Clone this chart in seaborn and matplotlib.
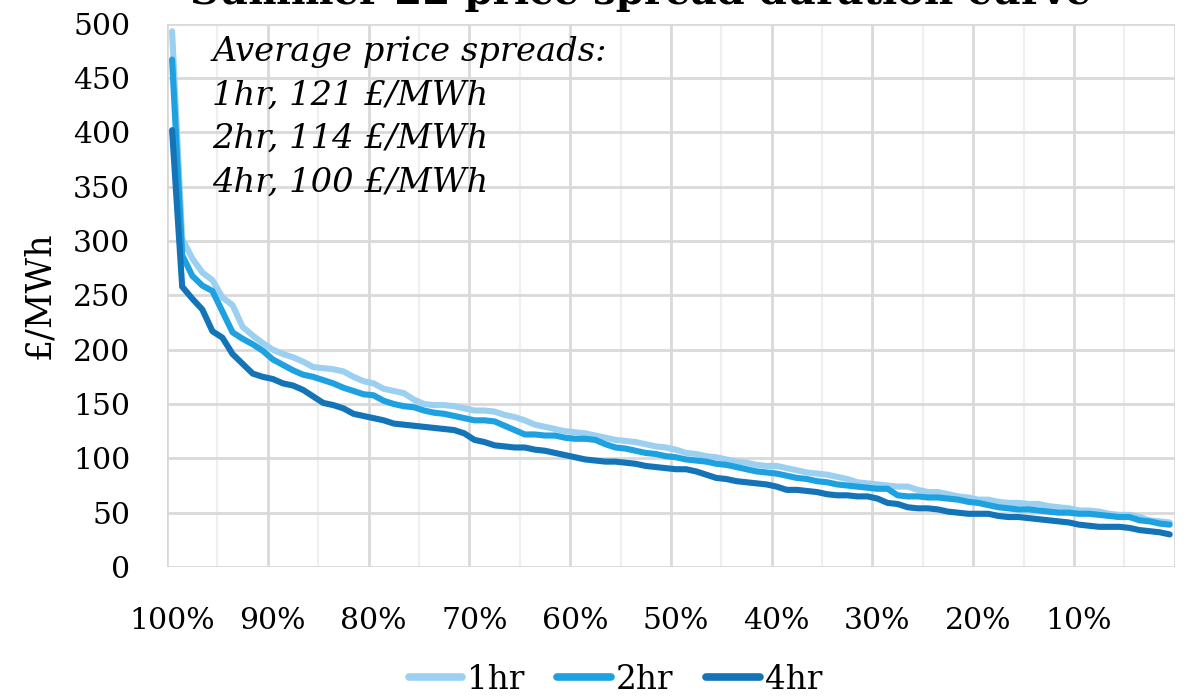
import matplotlib
matplotlib.use("Agg")
import matplotlib.pyplot as plt
import seaborn as sns
import pandas as pd

# ---- data ----
percentile = list(range(100, 0, -1))  # duration-curve categories 100% .. 1%

spread_1hr = [493, 302, 284, 271, 264, 248, 241, 221, 213, 206,
              200, 196, 193, 189, 184, 183, 182, 180, 175, 171,
              169, 164, 162, 160, 154, 150, 149, 149, 148, 146,
              144, 144, 143, 140, 138, 135, 131, 129, 127, 125,
              124, 123, 121, 119, 117, 116, 115, 113, 111, 110,
              108, 105, 104, 102, 101, 99, 97, 96, 94, 93,
              93, 91, 89, 87, 86, 85, 83, 81, 78, 77,
              76, 75, 74, 74, 71, 69, 69, 67, 65, 64,
              62, 62, 60, 59, 59, 58, 58, 56, 55, 54,
              52, 52, 51, 49, 48, 48, 46, 43, 42, 41]

spread_2hr = [467, 287, 268, 259, 254, 235, 216, 210, 205, 199,
              191, 186, 181, 177, 175, 172, 169, 165, 162, 159,
              158, 153, 150, 148, 147, 144, 142, 141, 139, 137,
              135, 135, 134, 130, 126, 122, 122, 121, 121, 119,
              118, 118, 117, 113, 110, 109, 107, 105, 104, 102,
              101, 99, 98, 97, 95, 94, 92, 90, 88, 87,
              86, 84, 82, 81, 79, 78, 76, 75, 74, 73,
              72, 72, 66, 65, 65, 64, 64, 63, 62, 60,
              59, 57, 55, 54, 53, 53, 52, 51, 50, 50,
              49, 49, 48, 47, 46, 46, 43, 42, 40, 39]

spread_4hr = [402, 258, 247, 237, 217, 211, 196, 187, 178, 175,
              173, 169, 167, 163, 157, 151, 149, 146, 141, 139,
              137, 135, 132, 131, 130, 129, 128, 127, 126, 123,
              117, 115, 112, 111, 110, 110, 108, 107, 105, 103,
              101, 99, 98, 97, 97, 96, 95, 93, 92, 91,
              90, 90, 88, 85, 82, 81, 79, 78, 77, 76,
              74, 71, 71, 70, 69, 67, 66, 66, 65, 65,
              63, 59, 58, 55, 54, 54, 53, 51, 50, 49,
              49, 49, 47, 46, 46, 45, 44, 43, 42, 41,
              39, 38, 37, 37, 37, 36, 34, 33, 32, 30]

series_names = ["1hr", "2hr", "4hr"]
series_colors = ["#9BD0F0", "#1DA1E0", "#1474B8"]
x_tick_values = [100, 90, 80, 70, 60, 50, 40, 30, 20, 10]
x_tick_labels = ["100%", "90%", "80%", "70%", "60%", "50%", "40%", "30%", "20%", "10%"]
y_ticks = [0, 50, 100, 150, 200, 250, 300, 350, 400, 450, 500]
title = "Summer 22 price spread duration curve"
note_lines = ["Average price spreads:", "1hr, 121 £/MWh", "2hr, 114 £/MWh", "4hr, 100 £/MWh"]

df = pd.concat([
    pd.DataFrame({"pct": percentile, "value": vals, "duration": name})
    for name, vals in zip(series_names, [spread_1hr, spread_2hr, spread_4hr])
], ignore_index=True)

# ---- figure ----
sns.set_theme(style="white")
plt.rcParams["font.family"] = ["DejaVu Serif"]
plt.rcParams["text.color"] = "black"
plt.rcParams["axes.labelcolor"] = "black"
fig = plt.figure(figsize=(11.89, 6.96), dpi=100)
ax = fig.add_axes([0.1405, 0.1853, 0.988 - 0.1405, 0.966 - 0.1853])

# gridlines
for g in range(0, 101, 5):
    major = (g % 10 == 0)
    ax.axvline(g + 0.5, color="#D9D9D9" if major else "#EFEFEF",
               lw=2.0 if major else 1.6, zorder=0)
for yv in y_ticks:
    ax.axhline(yv, color="#D9D9D9", lw=2.0, zorder=0)

sns.lineplot(data=df, x="pct", y="value", hue="duration", hue_order=series_names,
             palette=series_colors, linewidth=4.4, ax=ax, legend=True,
             estimator=None, sort=False)

ax.set_xlim(100.5, 0.5)
ax.set_ylim(0, 500)
ax.set_xticks(x_tick_values)
ax.set_xticklabels(x_tick_labels)
ax.set_yticks(y_ticks)
ax.tick_params(axis="x", length=0, pad=29, labelsize=21.5, colors="black")
ax.tick_params(axis="y", length=0, pad=26.5, labelsize=21.5, colors="black")
for s in ax.spines.values():
    s.set_visible(False)
ax.set_xlabel("")
ax.set_ylabel("£/MWh", fontsize=25, labelpad=12)

fig.text(0.539, 0.994, title, ha="center", va="baseline", fontsize=29,
         fontweight="bold")

for k, line in enumerate(note_lines):
    ax.text(0.045, 0.978 - k * 0.0805, line, transform=ax.transAxes,
            ha="left", va="top", fontsize=24.3, style="italic")

leg = ax.legend(loc="upper center", bbox_to_anchor=(0.445, -0.178), ncol=3,
                frameon=False, fontsize=23.5, handlelength=1.65, handletextpad=0.15,
                columnspacing=1.0, borderaxespad=0, borderpad=0)
for h in leg.get_lines():
    h.set_linewidth(5.5)

fig.savefig("out.png", dpi=100)
